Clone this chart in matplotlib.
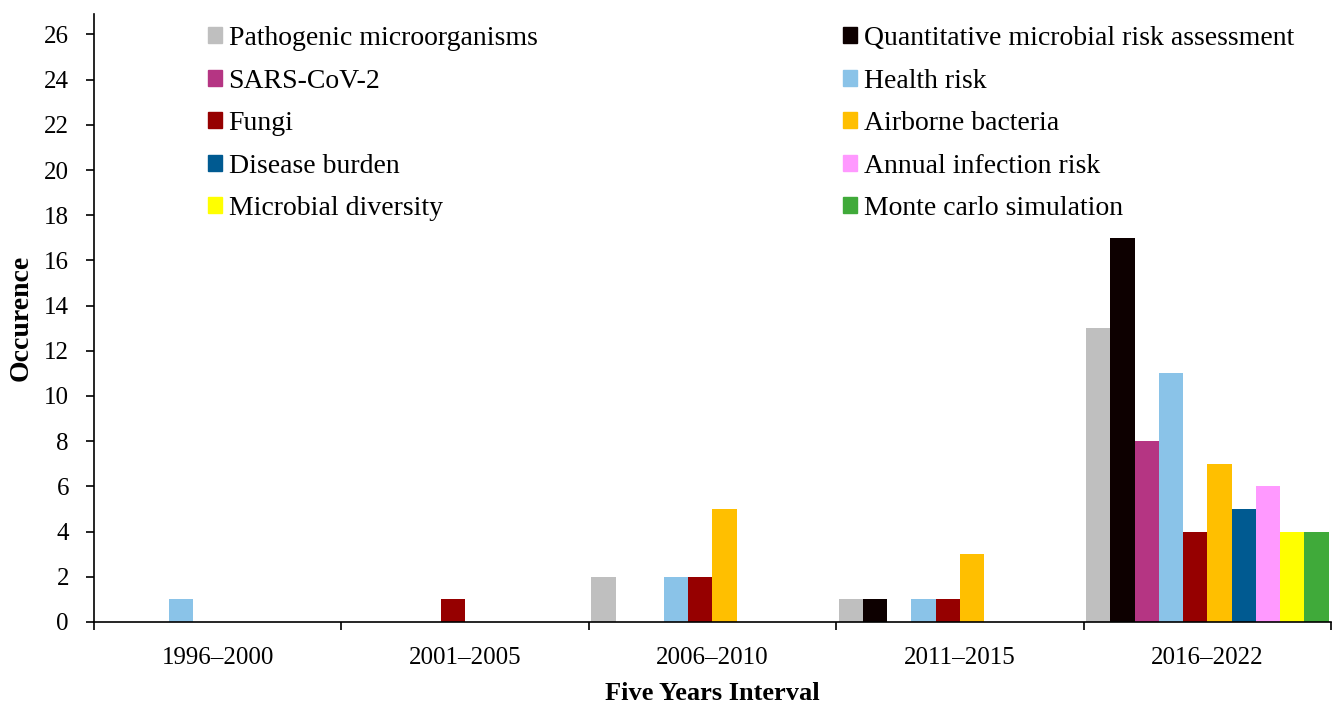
import matplotlib as mpl
mpl.use('Agg')
from matplotlib import pyplot as plt
from matplotlib.patches import Patch
import numpy as np

plt.rcParams['font.family'] = ['Liberation Serif', 'DejaVu Serif']

groups = ['1996–2000', '2001–2005', '2006–2010', '2011–2015', '2016–2022']
names = ['Pathogenic microorganisms', 'Quantitative microbial risk assessment',
         'SARS-CoV-2', 'Health risk', 'Fungi', 'Airborne bacteria',
         'Disease burden', 'Annual infection risk', 'Microbial diversity',
         'Monte carlo simulation']
colors = ['#BFBFBF', '#0D0000', '#B53583', '#8AC3E8', '#960000', '#FFBF00',
          '#005A91', '#FF99FF', '#FFFF00', '#40AA3A']

pathogenic = [0, 0, 2, 1, 13]
qmra = [0, 0, 0, 1, 17]
sars = [0, 0, 0, 0, 8]
health = [1, 0, 2, 1, 11]
fungi = [0, 1, 2, 1, 4]
airborne = [0, 0, 5, 3, 7]
burden = [0, 0, 0, 0, 5]
annual = [0, 0, 0, 0, 6]
diversity = [0, 0, 0, 0, 4]
montecarlo = [0, 0, 0, 0, 4]
series = [pathogenic, qmra, sars, health, fungi, airborne, burden, annual,
          diversity, montecarlo]

fig = plt.figure(figsize=(13.37, 7.04), dpi=100)
ax = fig.add_axes([0.0703, 0.1165, 0.9252, 0.8635])

x = np.arange(len(groups))
w = 0.098
n = len(series)
for i, vals in enumerate(series):
    ax.bar(x + (i - (n - 1) / 2) * w, vals, width=w, color=colors[i], label=names[i])

ax.set_xlim(-0.5, len(groups) - 0.5)
ax.set_ylim(0, 26.9)
ax.set_yticks(np.arange(0, 27, 2))
ax.set_xticks(np.arange(-0.5, len(groups)))
ax.set_xticklabels([])
ax.set_xticks(x, minor=True)
ax.set_xticklabels(groups, minor=True)
ax.tick_params(axis='x', which='minor', length=0, pad=18, labelsize=18)
ax.tick_params(axis='x', which='major', length=6, width=1.2, direction='out')
ax.tick_params(axis='y', length=6, width=1.2, labelsize=18, pad=12)
for s in ['top', 'right']:
    ax.spines[s].set_visible(False)
for s in ['left', 'bottom']:
    ax.spines[s].set_linewidth(1.2)

ax.set_ylabel('Occurence', fontsize=20, fontweight='bold')
ax.set_xlabel('Five Years Interval', fontsize=19, fontweight='bold')
ax.yaxis.set_label_coords(-0.049, 0.5)
ax.xaxis.set_label_coords(0.5, -0.099)

handles = [Patch(color=c) for c in colors]
opts = dict(loc='upper left', frameon=False, fontsize=20, handlelength=0.52,
            handleheight=0.52, handletextpad=0.22, labelspacing=0.63,
            borderpad=0, borderaxespad=0)
leg1 = ax.legend([handles[i] for i in range(0, n, 2)], [names[i] for i in range(0, n, 2)],
                 bbox_to_anchor=(0.0922, 0.980), **opts)
ax.add_artist(leg1)
ax.legend([handles[i] for i in range(1, n, 2)], [names[i] for i in range(1, n, 2)],
          bbox_to_anchor=(0.6055, 0.980), **opts)

fig.savefig('out.png', dpi=100)
